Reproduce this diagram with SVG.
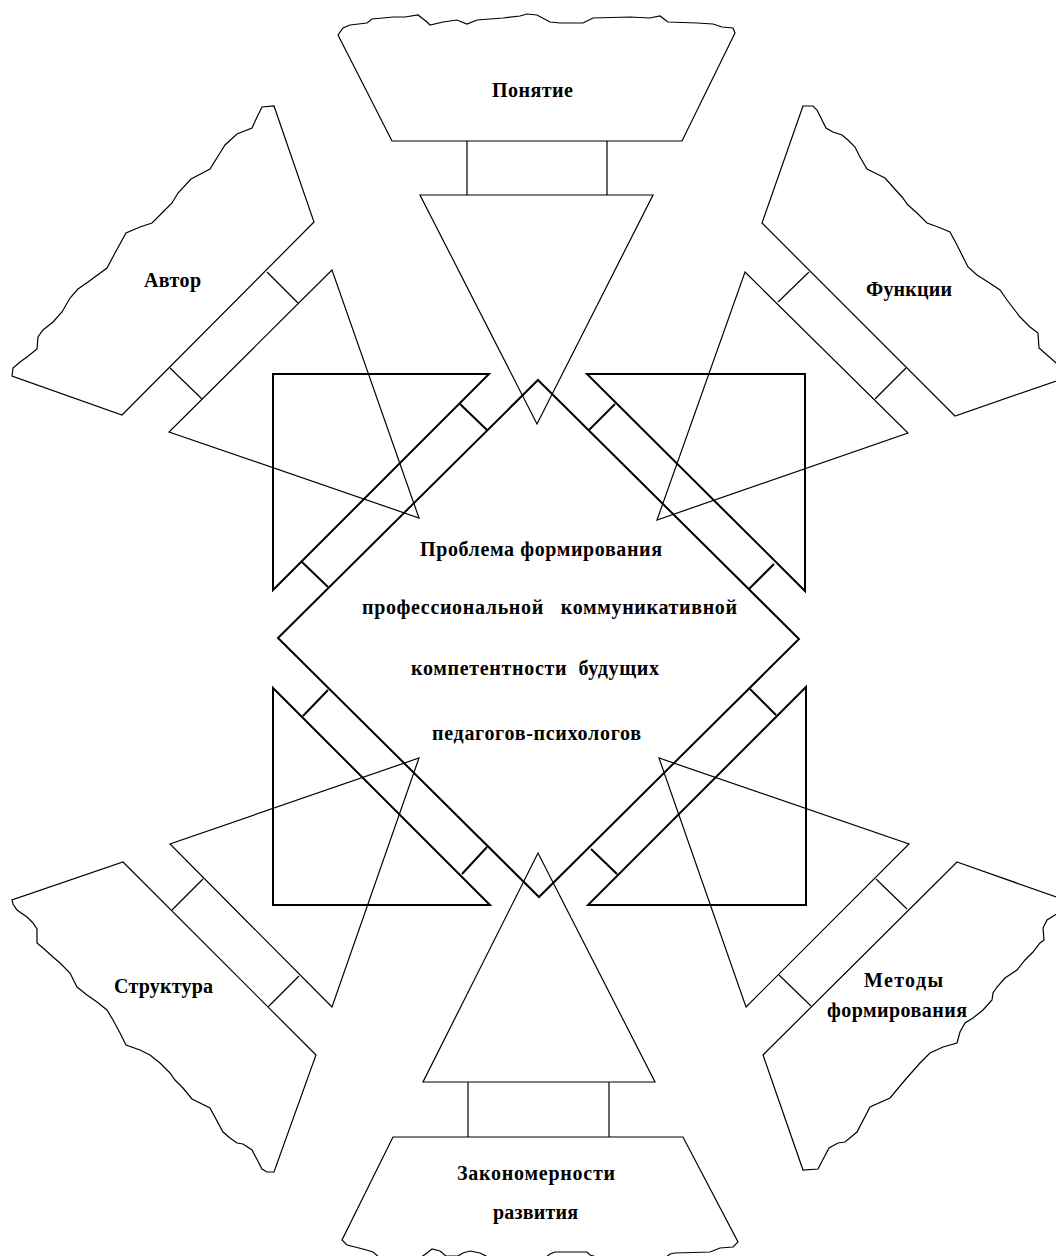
<svg xmlns="http://www.w3.org/2000/svg" width="1056" height="1256" viewBox="0 0 1056 1256">
<style>
.thin{fill:none;stroke:#000;stroke-width:1.2;stroke-linejoin:miter}
.thick{fill:none;stroke:#000;stroke-width:2}
.lbl{font-family:"Liberation Serif","Times New Roman",serif;font-weight:bold;font-size:20px;fill:#000}
</style>
<rect x="0" y="0" width="1056" height="1256" fill="#fff"/>

<g id="decor-triangles">
  <polygon class="thin" points="420,195 653,195 537,424"/>
  <polygon class="thin" points="423,1082 655,1082 538,853"/>
  <polygon class="thin" points="332,270 169,432 419,518"/>
  <polygon class="thin" points="745,272 908,433 657,520"/>
  <polygon class="thin" points="332,1007 170,844 419,758"/>
  <polygon class="thin" points="746,1007 909,844 659,758"/>
  <polygon class="thick" points="273,374 489,374 273,590"/>
  <polygon class="thick" points="587,374 805,374 805,591"/>
  <polygon class="thick" points="273,688 273,905 490,905"/>
  <polygon class="thick" points="806,687 806,905 588,905"/>
</g>

<g id="connectors">
  <line class="thick" x1="460" y1="404" x2="487" y2="430"/>
  <line class="thick" x1="302" y1="562" x2="328" y2="587"/>
  <line class="thick" x1="615" y1="404" x2="589" y2="430"/>
  <line class="thick" x1="774" y1="564" x2="749" y2="589"/>
  <line class="thick" x1="328" y1="690" x2="303" y2="716"/>
  <line class="thick" x1="487" y1="847" x2="462" y2="874"/>
  <line class="thick" x1="750" y1="689" x2="776" y2="715"/>
  <line class="thick" x1="591" y1="849" x2="617" y2="874"/>
  <line class="thin" x1="267" y1="272" x2="298" y2="303"/>
  <line class="thin" x1="170" y1="368" x2="202" y2="399"/>
  <line class="thin" x1="809" y1="272" x2="778" y2="302"/>
  <line class="thin" x1="906" y1="368" x2="875" y2="399"/>
  <line class="thin" x1="203" y1="879" x2="172" y2="910"/>
  <line class="thin" x1="299" y1="976" x2="268" y2="1007"/>
  <line class="thin" x1="876" y1="879" x2="907" y2="909"/>
  <line class="thin" x1="779" y1="975" x2="811" y2="1006"/>
  <line class="thin" x1="467" y1="141" x2="467" y2="195"/>
  <line class="thin" x1="607" y1="141" x2="607" y2="195"/>
  <line class="thin" x1="468" y1="1082" x2="468" y2="1137"/>
  <line class="thin" x1="609" y1="1082" x2="609" y2="1137"/>
</g>

<g id="node-center">
  <polygon class="thick" points="538,380 799,639 539,897 278,638"/>
  <text class="lbl" x="420" y="556" textLength="242">Проблема формирования</text>
  <text class="lbl" x="362" y="614" textLength="375" xml:space="preserve">профессиональной   коммуникативной</text>
  <text class="lbl" x="411" y="675" textLength="248" xml:space="preserve">компетентности  будущих</text>
  <text class="lbl" x="432" y="740" textLength="209">педагогов-психологов</text>
</g>

<g id="node-ponyatie">
  <path class="thin" d="M338,35 L392,141 L682,141 L735,33 L733,28 L722,27 L713,24 L697,23 L668,22 L660,16 L650,18 L630,17 L593,18 L583,23 L560,23 L550,22 L537,15 L527,14 L520,16 L503,18 L477,20 L467,24 L457,20 L443,22 L430,25 L427,22 L418,15 L405,17 L393,17 L383,18 L372,19 L367,23 L350,25 L343,28 Z"/>
  <text class="lbl" x="492" y="97" textLength="81">Понятие</text>
</g>

<g id="node-avtor">
  <path class="thin" d="M274,106 L314,222 L122,415 L12,376 L13,368 L20,362 L27,357 L37,349 L38,337 L43,330 L53,322 L62,312 L70,298 L78,289 L88,282 L107,268 L115,253 L126,233 L140,227 L152,223 L163,212 L172,203 L178,193 L191,179 L210,169 L220,153 L225,145 L237,134 L252,128 L257,117 L262,107 Z"/>
  <text class="lbl" x="144" y="287" textLength="57">Автор</text>
</g>

<g id="node-funktsii">
  <path class="thin" d="M803,106 L762,223 L955,416 L1062,379 L1062,368 L1055,362 L1047,355 L1039,348 L1038,333 L1030,327 L1020,317 L1007,300 L1000,290 L988,282 L977,275 L968,267 L957,245 L950,232 L938,227 L927,223 L917,213 L908,205 L902,197 L893,187 L885,178 L875,173 L867,169 L860,157 L855,147 L848,140 L842,135 L833,132 L826,128 L822,120 L817,110 L813,106 Z"/>
  <text class="lbl" x="866" y="296" textLength="86">Функции</text>
</g>

<g id="node-struktura">
  <path class="thin" d="M123,862 L316,1055 L274,1172 L267,1172 L262,1169 L252,1150 L243,1144 L237,1143 L230,1138 L223,1132 L210,1108 L192,1099 L183,1088 L175,1080 L170,1073 L160,1063 L150,1055 L140,1050 L126,1045 L120,1033 L113,1020 L107,1010 L97,1002 L87,995 L77,987 L70,973 L60,963 L53,957 L43,948 L37,943 L37,929 L33,923 L27,917 L17,910 L13,904 L12,900 Z"/>
  <text class="lbl" x="114" y="993" textLength="99">Структура</text>
</g>

<g id="node-metody">
  <path class="thin" d="M957,862 L1062,899 L1062,910 L1055,915 L1047,920 L1043,928 L1044,940 L1040,943 L1033,952 L1025,960 L1017,970 L1005,978 L997,987 L993,993 L992,1000 L983,1010 L973,1018 L965,1023 L960,1032 L957,1043 L943,1047 L930,1053 L920,1063 L905,1080 L890,1098 L870,1107 L857,1132 L845,1142 L838,1143 L829,1148 L818,1169 L803,1170 L763,1055 Z"/>
  <text class="lbl" x="864" y="987" textLength="79">Методы</text>
  <text class="lbl" x="827" y="1017" textLength="140">формирования</text>
</g>

<g id="node-zakonomernosti">
  <path class="thin" d="M393,1137 L683,1137 L738,1242 L733,1247 L720,1248 L710,1252 L675,1253 L670,1254 L665,1258 L600,1258 L590,1255 L587,1252 L555,1252 L550,1254 L545,1258 L490,1258 L480,1253 L470,1251 L463,1253 L458,1256 L446,1256 L440,1251 L432,1249 L427,1253 L420,1258 L380,1258 L373,1252 L363,1249 L347,1245 L342,1240 Z"/>
  <text class="lbl" x="457" y="1180" textLength="158">Закономерности</text>
  <text class="lbl" x="493" y="1219" textLength="85">развития</text>
</g>
</svg>
